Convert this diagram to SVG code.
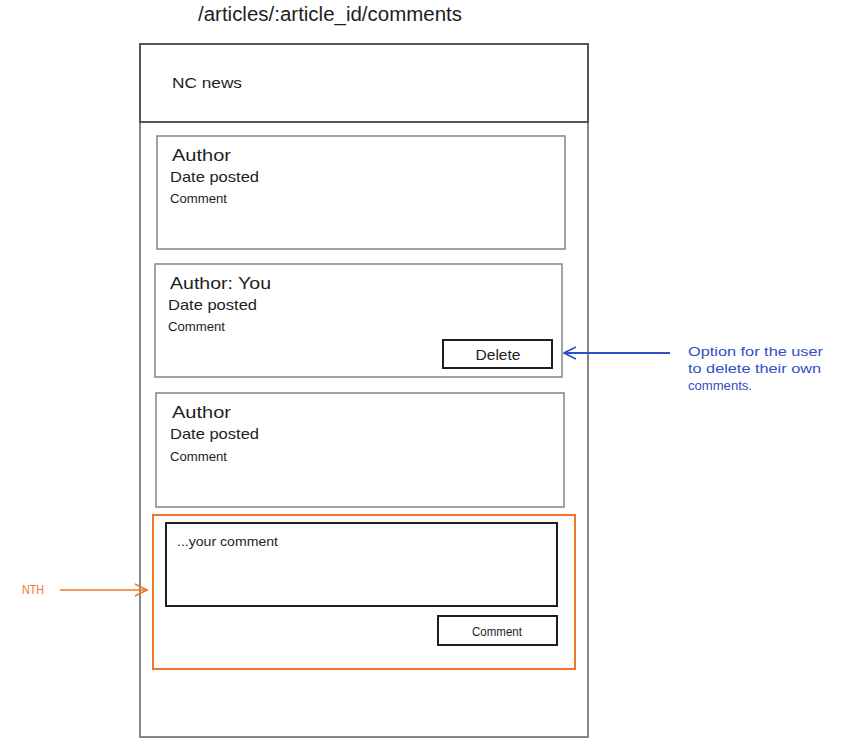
<svg xmlns="http://www.w3.org/2000/svg" width="845" height="752" viewBox="0 0 845 752">
<style>
text{font-family:"Liberation Sans","DejaVu Sans",sans-serif;fill:#1e1e1e}
.frame{fill:none;stroke:#868686;stroke-width:2}
.card{fill:none;stroke:#8c8c8c;stroke-width:1.6}
.btn{fill:none;stroke:#1e1e1e;stroke-width:2}
.big{font-size:17px}
.mid{font-size:15px}
.sm{font-size:13px}
.blue{fill:#2f4fc6;font-size:13px}
.orange{fill:#f0772b;font-size:12px}
</style>
<defs>
<marker id="ab" markerWidth="14" markerHeight="14" refX="13" refY="7" orient="auto" markerUnits="userSpaceOnUse">
<path d="M1,1 L13,7 L1,13" fill="none" stroke="#2f4fc6" stroke-width="1.8"/>
</marker>
<marker id="ao" markerWidth="14" markerHeight="14" refX="13" refY="7" orient="auto" markerUnits="userSpaceOnUse">
<path d="M1,1 L13,7 L1,13" fill="none" stroke="#f0772b" stroke-width="1.6"/>
</marker>
</defs>
<rect width="845" height="752" fill="#ffffff"/>
<text x="198" y="21" font-size="20" textLength="264" lengthAdjust="spacingAndGlyphs">/articles/:article_id/comments</text>
<g id="page">
<rect class="frame" x="140" y="44" width="448" height="693"/>
</g>
<g id="header">
<rect x="140" y="44" width="448" height="78" fill="none" stroke="#555" stroke-width="2"/>
<text class="mid" x="172" y="88" textLength="70" lengthAdjust="spacingAndGlyphs">NC news</text>
</g>
<g id="comment1">
<rect class="card" x="157" y="136" width="408" height="113"/>
<text class="big" x="172" y="161" textLength="59" lengthAdjust="spacingAndGlyphs">Author</text>
<text class="mid" x="170" y="182" textLength="89" lengthAdjust="spacingAndGlyphs">Date posted</text>
<text class="sm" x="170" y="203" textLength="57" lengthAdjust="spacingAndGlyphs">Comment</text>
</g>
<g id="comment2">
<rect class="card" x="155" y="264" width="407" height="113"/>
<text class="big" x="170" y="289" textLength="101" lengthAdjust="spacingAndGlyphs">Author: You</text>
<text class="mid" x="168" y="310" textLength="89" lengthAdjust="spacingAndGlyphs">Date posted</text>
<text class="sm" x="168" y="331" textLength="57" lengthAdjust="spacingAndGlyphs">Comment</text>
</g>
<g id="delete-btn">
<rect class="btn" x="443" y="340" width="109" height="28"/>
<text class="mid" x="498" y="360" text-anchor="middle" textLength="45" lengthAdjust="spacingAndGlyphs">Delete</text>
</g>
<g id="comment3">
<rect class="card" x="156" y="393" width="408" height="114"/>
<text class="big" x="172" y="418" textLength="59" lengthAdjust="spacingAndGlyphs">Author</text>
<text class="mid" x="170" y="439" textLength="89" lengthAdjust="spacingAndGlyphs">Date posted</text>
<text class="sm" x="170" y="461" textLength="57" lengthAdjust="spacingAndGlyphs">Comment</text>
</g>
<g id="nth-box">
<rect x="153" y="515" width="422" height="154" fill="none" stroke="#f0772b" stroke-width="2"/>
</g>
<g id="comment-input">
<rect class="btn" x="166" y="523" width="391" height="83"/>
<text class="sm" x="177" y="546" textLength="101" lengthAdjust="spacingAndGlyphs">...your comment</text>
</g>
<g id="comment-btn">
<rect class="btn" x="438" y="616" width="119" height="29"/>
<text class="sm" x="497" y="636" text-anchor="middle" textLength="50" lengthAdjust="spacingAndGlyphs">Comment</text>
</g>
<g id="note-delete">
<text class="blue" x="688" y="356" textLength="135" lengthAdjust="spacingAndGlyphs">Option for the user</text>
<text class="blue" x="688" y="373" textLength="133" lengthAdjust="spacingAndGlyphs">to delete their own</text>
<text class="blue" x="688" y="390" textLength="64" lengthAdjust="spacingAndGlyphs">comments.</text>
</g>
<g id="note-nth">
<text class="orange" x="22" y="594" textLength="22" lengthAdjust="spacingAndGlyphs">NTH</text>
</g>
<g id="connectors">
<line x1="670" y1="353" x2="564" y2="353" stroke="#2f4fc6" stroke-width="1.8" marker-end="url(#ab)"/>
<line x1="60" y1="590" x2="147" y2="590" stroke="#f0772b" stroke-width="1.6" marker-end="url(#ao)"/>
</g>
</svg>
